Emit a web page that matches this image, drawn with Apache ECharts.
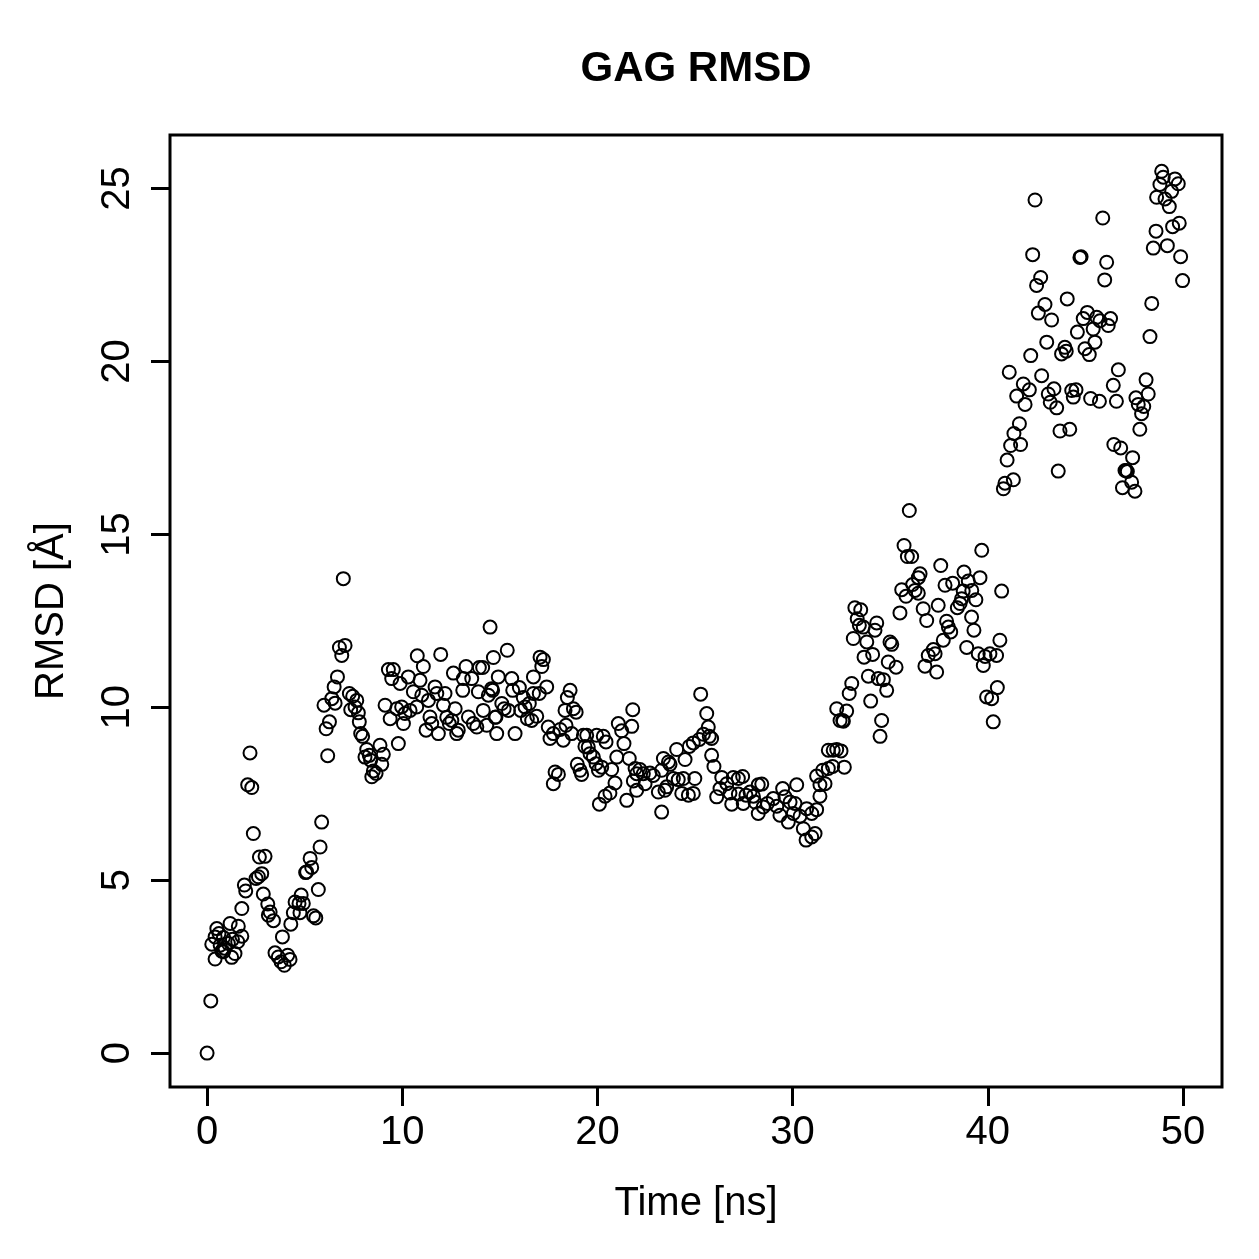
<!DOCTYPE html>
<html>
<head>
<meta charset="utf-8">
<script src="https://cdn.jsdelivr.net/npm/echarts@6/dist/echarts.min.js"></script>
<style>
  html, body { margin: 0; padding: 0; background: #fff; }
  #chart { width: 1259px; height: 1259px; }
</style>
</head>
<body>
<div id="chart"></div>
<script>
// [time ns, RMSD Å], grouped by stretch of the trajectory
const rmsdStart = [
  [0,0],[0.19,1.51],[0.24,3.15],[0.41,2.72],[0.41,3.36],[0.5,3.6],[0.61,3.46],[0.67,3.12],[0.75,2.95],
  [0.84,3.34],[0.84,2.93],[0.92,3.03],[1.09,3.17],[1.18,3.75],[1.26,2.77],[1.3,3.29],[1.43,2.88],
  [1.57,3.22],[1.6,3.67],[1.78,3.38],[1.78,4.18],[1.91,4.86],[1.98,4.69],[2.08,7.76],[2.29,7.68],
  [2.2,8.68],[2.37,6.35],[2.51,5.05],[2.63,5.1],[2.8,5.19],[2.68,5.67],[2.97,5.69],[2.88,4.6],
  [3.11,4.31],[3.23,4.08],[3.14,3.99],[3.4,3.83],[3.48,2.9],[3.65,2.78],[3.79,2.64],[3.96,2.54],
  [4.13,2.83],[4.25,2.71],[3.86,3.36],[4.29,3.73],[4.42,4.06],[4.51,4.37],[4.71,4.33],[4.82,4.57],
  [4.93,4.33],[4.76,4.06],[5.45,3.97],[5.57,3.91],[5.7,4.73],[5.1,5.24],[5.28,5.63],[5.36,5.37],
  [5.05,5.22],[5.79,5.96],[5.87,6.68],[6.18,8.6]
];
const rmsdPlateau = [
  [6.98,13.72],[6.78,11.73],[7.07,11.79],[6.9,11.5],[6.68,10.88],[6.51,10.59],[5.99,10.06],[6.39,10.25],
  [6.56,10.12],[6.27,9.58],[6.1,9.38],[7.29,10.4],[7.46,10.32],[7.67,10.2],[7.36,9.93],[7.58,10.01],
  [7.75,9.84],[7.8,9.58],[7.87,9.24],[7.97,9.16],[8.18,8.78],[8.09,8.56],[8.31,8.61],[8.38,8.47],
  [8.52,8.16],[8.44,7.99],[8.66,8.09],[8.86,8.9],[9.03,8.64],[8.95,8.35],[9.8,8.95],[9.12,10.06],
  [9.29,11.09],[9.54,11.09],[9.46,10.83],[9.38,9.67],[9.72,9.96],[9.97,10.01],[9.89,10.69],[10.31,10.88],
  [10.14,9.82],[10.06,9.53],[10.4,9.91],[10.57,10.45],[10.74,10.01],[10.77,11.49],[11.08,11.18],
  [10.91,10.78],[11.0,10.35],[11.34,10.2],[11.22,9.34],[11.42,9.72],[11.51,9.53],[11.68,10.59],
  [11.77,10.4],[11.85,9.24],[11.97,11.53],[12.19,10.4],[12.11,10.06],[12.28,9.71],[12.41,9.53],
  [12.62,10.99],[12.71,9.96],[12.79,9.24],[12.87,9.34],[12.54,9.62],[13.13,10.83],[13.27,11.18],
  [13.1,10.49],[13.39,9.72],[13.56,10.83],[13.64,9.53],[13.82,9.43],[13.95,11.15],[14.12,11.15],
  [13.9,10.45],[14.15,9.91],[14.33,9.48],[14.5,12.32],[14.41,10.35],[14.58,10.54],[14.67,11.44],
  [14.76,9.71],[14.84,9.24],[14.92,10.88]
];
const rmsdDecline = [
  [15.38,11.65],[14.63,10.49],[15.61,10.83],[15.66,10.49],[16.0,10.57],[16.2,10.28],[15.1,10.11],
  [15.22,9.96],[15.44,9.91],[14.8,9.72],[15.78,9.24],[16.07,9.91],[16.29,10.01],[16.41,9.67],
  [16.63,9.62],[16.89,9.74],[16.51,10.11],[16.72,10.4],[17.02,10.4],[17.4,10.59],[16.72,10.88],
  [17.06,11.45],[17.23,11.38],[17.15,11.18],[17.48,9.43],[17.57,9.1],[17.74,9.24],[18.09,9.36],
  [18.25,9.05],[18.39,9.48],[18.6,10.49],[18.46,10.28],[18.34,9.91],[18.77,9.96],[18.91,9.86],
  [18.68,9.24],[17.83,8.13],[18.0,8.06],[17.74,7.79],[18.97,8.35],[19.11,8.18],[19.19,8.06],
  [19.28,9.19],[19.45,9.19],[19.36,8.87],[19.53,8.85],[19.62,8.66],[19.79,8.56],[19.96,9.19],
  [20.3,9.16],[20.44,9.0],[19.93,8.37],[20.05,8.18],[20.22,8.27],[20.73,8.2],[20.99,8.56],
  [21.07,9.53],[21.24,9.32],[21.36,8.95],[21.76,9.45],[21.81,9.93],[21.63,8.52],[20.9,7.81],
  [20.64,7.52],[20.39,7.43],[20.1,7.2],[21.5,7.31],[21.93,8.23],[22.01,8.08],[21.84,7.87],
  [22.01,7.6],[22.18,8.2],[22.35,8.08],[22.44,7.79],[22.69,8.1],[22.86,8.03],[23.12,7.55],
  [23.29,6.97],[23.38,8.52],[23.64,8.42],[23.46,7.6]
];
const rmsdLow = [
  [25.29,10.38],[25.6,9.82],[25.68,9.43],[25.43,9.22],[25.73,9.16],[25.85,9.1],[25.22,9.07],
  [24.91,8.97],[24.71,8.87],[24.06,8.78],[24.49,8.49],[25.85,8.61],[25.97,8.29],[23.72,8.35],
  [23.29,8.18],[23.55,7.7],[23.89,7.94],[24.14,7.91],[24.4,7.94],[24.99,7.94],[24.32,7.51],
  [24.66,7.46],[24.91,7.51],[26.37,7.97],[26.63,7.79],[26.96,7.97],[27.22,7.94],[27.44,8.0],
  [26.11,7.41],[26.28,7.65],[26.79,7.52],[26.88,7.2],[27.22,7.49],[27.47,7.22],[27.61,7.46],
  [27.82,7.55],[27.99,7.43],[28.24,7.76],[28.42,7.78],[28.07,7.26],[28.24,6.93],[28.5,7.12],
  [28.71,7.22],[29.01,7.36],[29.19,7.14],[29.35,6.88],[29.49,7.65],[29.61,7.41],[29.87,7.26],
  [30.12,7.22],[30.21,7.76],[29.78,6.68],[30.04,6.93],[30.38,6.85],[30.55,6.49],[30.72,7.07],
  [30.98,6.93],[31.23,7.04],[30.69,6.16],[30.98,6.25],[31.15,6.35],[31.4,7.43],[31.23,8.01],
  [31.54,8.18],[31.66,7.79],[31.83,8.23],[32.05,8.29],[31.83,8.76],[32.08,8.76],[32.26,8.78],
  [32.26,9.96],[32.43,9.62],[31.4,7.76],[32.65,8.27],[32.48,8.74],[32.77,9.89],[32.6,9.6]
];
const rmsdRise = [
  [35.98,15.69],[35.71,14.68],[35.88,14.36],[36.1,14.36],[39.69,14.54],[37.59,14.1],[38.78,13.91],
  [39.6,13.75],[36.53,13.86],[36.44,13.75],[36.15,13.55],[36.27,13.38],[36.44,13.3],[35.59,13.4],
  [35.81,13.21],[37.81,13.53],[38.2,13.59],[39.0,13.65],[39.18,13.38],[38.74,13.36],[39.39,13.11],
  [40.71,13.36],[38.66,13.14],[38.58,13.0],[38.44,12.88],[36.69,12.85],[37.46,12.95],[35.5,12.73],
  [36.87,12.51],[39.17,12.61],[39.29,12.23],[37.89,12.49],[37.98,12.32],[38.1,12.18],[37.72,11.94],
  [40.62,11.94],[33.19,12.88],[33.49,12.82],[33.31,12.56],[33.42,12.37],[33.62,12.32],[34.31,12.44],
  [34.22,12.23],[33.11,11.99],[33.8,11.89],[34.99,11.89],[35.08,11.82],[37.21,11.67],[37.3,11.55],
  [36.95,11.5],[36.78,11.19],[37.38,11.02],[38.92,11.73],[39.51,11.55],[39.86,11.47],[40.11,11.55],
  [40.45,11.5],[39.77,11.21],[33.66,11.45],[34.1,11.53],[34.9,11.31],[35.3,11.16],[33.88,10.9],
  [34.39,10.83],[34.65,10.8],[34.82,10.49],[33.03,10.69],[32.9,10.4],[34.0,10.18],[32.57,9.62],
  [34.56,9.62],[34.48,9.16],[39.94,10.3],[40.2,10.25],[40.49,10.57],[40.28,9.58]
];
const rmsdHigh = [
  [42.42,24.67],[45.89,24.15],[48.91,25.5],[48.99,25.33],[49.59,25.28],[49.76,25.14],[48.82,25.12],
  [49.42,24.92],[48.65,24.75],[49.08,24.7],[49.3,24.48],[49.47,23.9],[49.81,24.0],[48.62,23.77],
  [48.48,23.28],[49.2,23.35],[49.88,23.03],[49.98,22.34],[48.4,21.68],[48.31,20.72],[42.3,23.09],
  [44.72,23.01],[44.78,23.03],[46.09,22.87],[45.99,22.36],[42.71,22.43],[42.5,22.2],[44.07,21.81],
  [42.93,21.65],[42.59,21.4],[43.27,21.2],[45.1,21.42],[44.89,21.24],[45.58,21.28],[45.75,21.18],
  [46.29,21.24],[46.17,21.04],[45.4,20.94],[44.59,20.85],[45.49,20.56],[43.02,20.56],[43.95,20.41],
  [43.78,20.22],[44.02,20.3],[44.98,20.37],[45.2,20.2],[42.2,20.17],[41.1,19.69],[42.76,19.59],
  [46.69,19.76],[48.11,19.47],[41.82,19.35],[42.13,19.18],[41.48,19.0],[41.91,18.76],[43.39,19.21],
  [43.1,19.06],[43.2,18.82],[43.53,18.66],[44.3,19.16],[44.52,19.18],[44.38,18.97],[45.27,18.93],
  [45.72,18.85],[46.43,19.31],[46.59,18.85],[47.59,18.95],[47.71,18.76],[47.99,18.7],[47.88,18.49],
  [48.22,19.06],[47.79,18.04],[41.62,18.2],[41.34,17.92],[41.68,17.6],[41.17,17.57],[40.99,17.15],
  [43.7,17.99],[44.2,18.04],[46.46,17.6],[46.81,17.5],[43.61,16.83],[47.42,17.22],[47.03,16.85],
  [47.1,16.85],[47.15,16.82],[47.37,16.51],[46.9,16.35],[47.54,16.25],[41.31,16.58],[40.88,16.48],
  [40.8,16.32]
];

const xTicks = [0, 10, 20, 30, 40, 50];
const yTicks = [0, 5, 10, 15, 20, 25];

const allPoints = [].concat(rmsdStart, rmsdPlateau, rmsdDecline, rmsdLow, rmsdRise, rmsdHigh);

const chart = echarts.init(document.getElementById('chart'), null, { renderer: 'canvas' });
const font = 'Liberation Sans, Arial, Helvetica, sans-serif';

chart.setOption({
  animation: false,
  backgroundColor: '#fff',
  grid: {
    left: 170, top: 135, width: 1052, height: 952,
    show: true, borderColor: '#000', borderWidth: 3, backgroundColor: 'transparent'
  },
  xAxis: {
    type: 'value', min: -1.9, max: 52,
    axisLine: { show: false, onZero: false },
    splitLine: { show: false },
    axisTick: { show: true, inside: false, customValues: xTicks, length: 19, lineStyle: { color: '#000', width: 3 } },
    axisLabel: { customValues: xTicks, margin: 26, color: '#000', fontSize: 40, fontFamily: font }
  },
  yAxis: {
    type: 'value', min: -0.98, max: 26.55,
    axisLine: { show: false, onZero: false },
    splitLine: { show: false },
    axisTick: { show: true, inside: false, customValues: yTicks, length: 19, lineStyle: { color: '#000', width: 3 } },
    axisLabel: { customValues: yTicks, rotate: 90, margin: 32, color: '#000', fontSize: 40, fontFamily: font }
  },
  series: [{
    type: 'scatter',
    data: allPoints,
    symbol: 'circle',
    symbolSize: 13,
    itemStyle: { color: 'rgba(0,0,0,0)', borderColor: '#000', borderWidth: 2, opacity: 1 },
    emphasis: { disabled: true }
  }],
  graphic: [
    { type: 'text', x: 696, y: 69, style: { text: 'GAG RMSD', fill: '#000', font: 'bold 42px ' + font, textAlign: 'center', textVerticalAlign: 'middle' } },
    { type: 'text', x: 696, y: 1204, style: { text: 'Time [ns]', fill: '#000', font: '40px ' + font, textAlign: 'center', textVerticalAlign: 'middle' } },
    { type: 'text', x: 52, y: 611, rotation: Math.PI / 2, style: { text: 'RMSD [Å]', fill: '#000', font: '40px ' + font, textAlign: 'center', textVerticalAlign: 'middle' } }
  ]
});
</script>
</body>
</html>
